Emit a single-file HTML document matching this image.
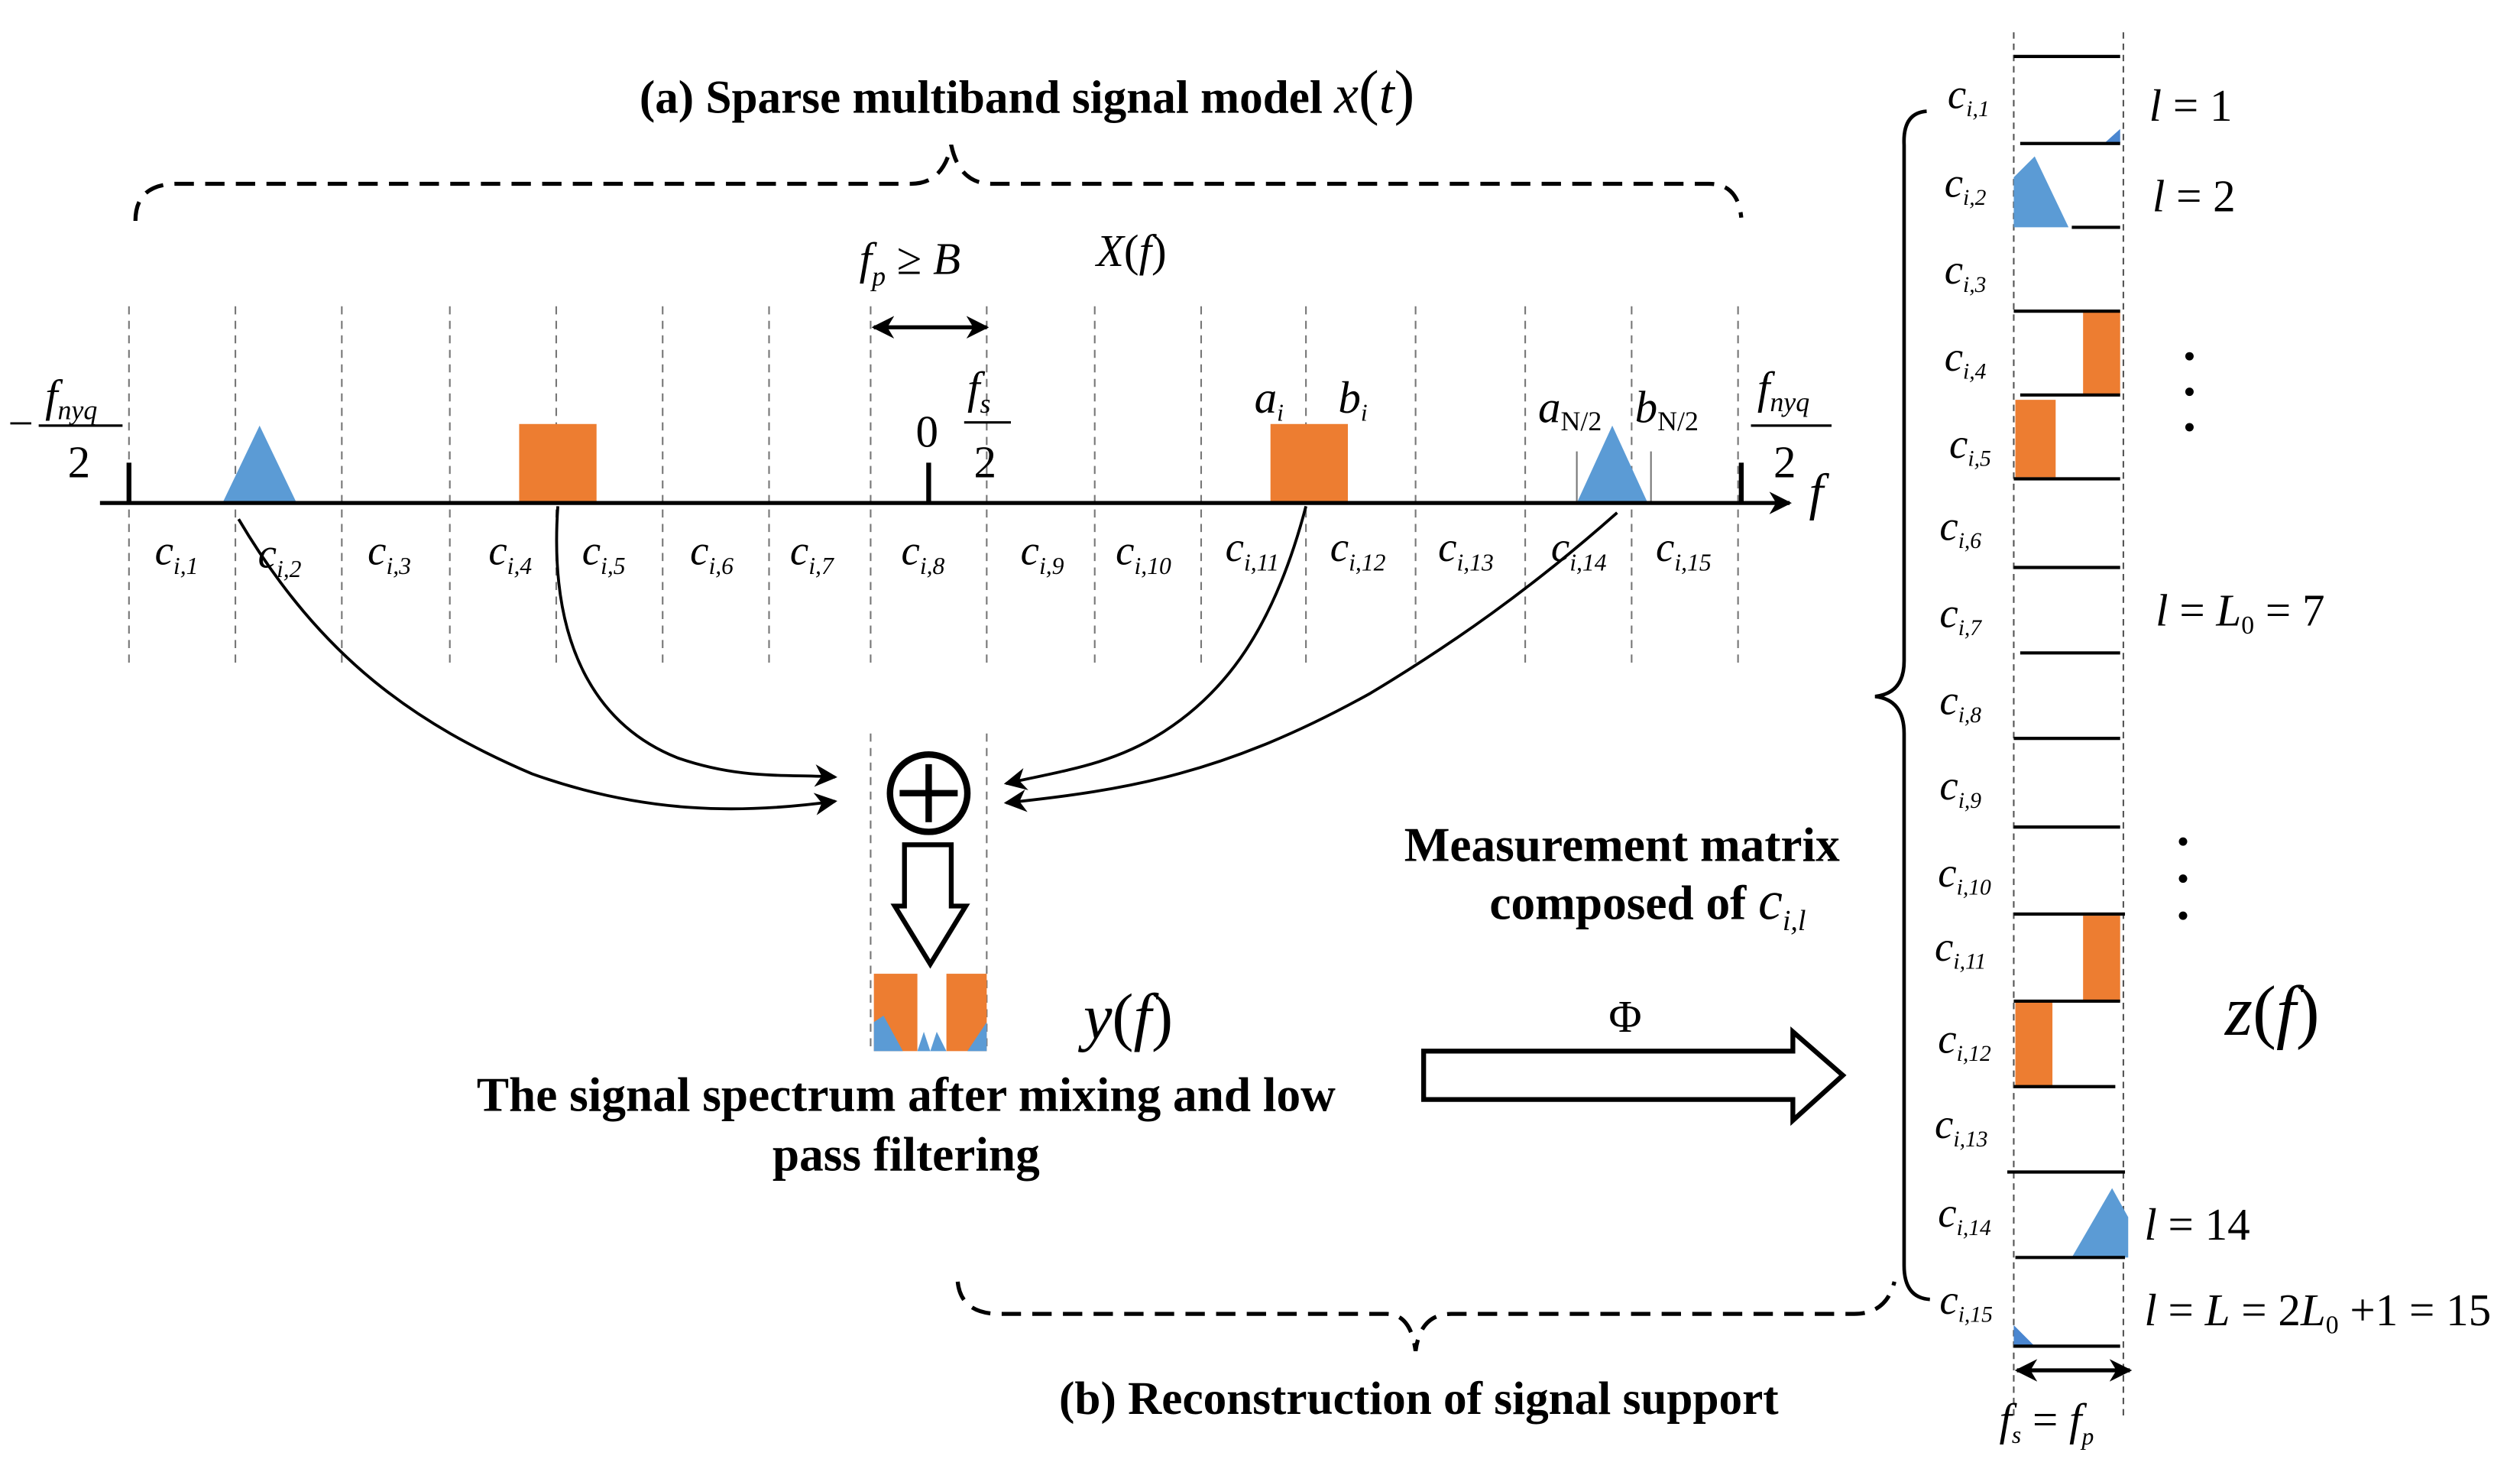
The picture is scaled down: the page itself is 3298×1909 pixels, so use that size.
<!DOCTYPE html>
<html><head><meta charset="utf-8"><style>
html,body{margin:0;padding:0;background:#fff;}
svg{display:block;}
text{font-family:"Liberation Serif",serif;}
.it{font-style:italic;}
.b{font-weight:bold;}
</style></head><body>
<svg width="3298" height="1909" viewBox="0 0 1563 905" preserveAspectRatio="none" xmlns="http://www.w3.org/2000/svg">
<defs>
<marker id="ah" viewBox="0 0 10 10" refX="9" refY="5" markerWidth="9" markerHeight="9" orient="auto-start-reverse" markerUnits="userSpaceOnUse"><path d="M0,0 L10,5 L0,10 L3,5 z" fill="#000"/></marker>
<marker id="ah2" viewBox="0 0 10 10" refX="9" refY="5" markerWidth="14" markerHeight="14" orient="auto-start-reverse" markerUnits="userSpaceOnUse"><path d="M0,0 L10,5 L0,10 L3,5 z" fill="#000"/></marker>
</defs>

<text x="637" y="70" font-size="29" class="b" text-anchor="middle">(a) Sparse multiband signal model <tspan class="it" font-weight="normal" font-size="34">x</tspan><tspan font-weight="normal" font-size="38">(</tspan><tspan class="it" font-weight="normal" font-size="34">t</tspan><tspan font-weight="normal" font-size="38">)</tspan></text>

<path d="M84,137 Q84,114 110,114 L565,114 Q585,114 590,90 Q595,114 615,114 L1060,114 Q1078,114 1080,135" fill="none" stroke="#000" stroke-width="2.5" stroke-dasharray="12,7"/>

<g stroke="#777" stroke-width="1" stroke-dasharray="5,4">
<line x1="80" y1="190" x2="80" y2="412"/><line x1="146" y1="190" x2="146" y2="412"/>
<line x1="212" y1="190" x2="212" y2="412"/><line x1="279" y1="190" x2="279" y2="412"/>
<line x1="345" y1="190" x2="345" y2="412"/><line x1="411" y1="190" x2="411" y2="412"/>
<line x1="477" y1="190" x2="477" y2="412"/><line x1="540" y1="190" x2="540" y2="412"/>
<line x1="612" y1="190" x2="612" y2="412"/><line x1="679" y1="190" x2="679" y2="412"/>
<line x1="745" y1="190" x2="745" y2="412"/><line x1="810" y1="190" x2="810" y2="412"/>
<line x1="878" y1="190" x2="878" y2="412"/><line x1="946" y1="190" x2="946" y2="412"/>
<line x1="1012" y1="190" x2="1012" y2="412"/><line x1="1078" y1="190" x2="1078" y2="412"/>
<line x1="540" y1="455" x2="540" y2="650"/><line x1="612" y1="455" x2="612" y2="650"/>
</g>
<line x1="978" y1="280" x2="978" y2="312" stroke="#777" stroke-width="1"/>
<line x1="1024" y1="280" x2="1024" y2="312" stroke="#777" stroke-width="1"/>

<polygon points="138,312 161,264 184,312" fill="#5b9bd5"/>
<rect x="322" y="263" width="48" height="49" fill="#ed7d31"/>
<rect x="788" y="263" width="48" height="49" fill="#ed7d31"/>
<polygon points="978,312 1000,264 1022,312" fill="#5b9bd5"/>

<line x1="62" y1="312" x2="1110" y2="312" stroke="#000" stroke-width="2.5" marker-end="url(#ah2)"/>
<g stroke="#000" stroke-width="3"><line x1="80" y1="287" x2="80" y2="312"/><line x1="576" y1="287" x2="576" y2="312"/><line x1="1080" y1="287" x2="1080" y2="312"/></g>

<g font-size="28">
<text x="5" y="272">−</text><text x="28" y="255" class="it">f<tspan font-size="17" dy="5">nyq</tspan></text>
<line x1="24" y1="264" x2="76" y2="264" stroke="#000" stroke-width="1.5"/><text x="42" y="296">2</text>
<text x="568" y="277">0</text>
<text x="600" y="250" class="it">f<tspan font-size="17" dy="6">s</tspan></text>
<line x1="598" y1="262" x2="627" y2="262" stroke="#000" stroke-width="1.5"/><text x="604" y="296">2</text>
<text x="778" y="256" class="it">a<tspan font-size="15" dy="5">i</tspan></text>
<text x="830" y="256" class="it">b<tspan font-size="15" dy="5">i</tspan></text>
<text x="954" y="262" class="it">a<tspan font-size="17" dy="5" font-style="normal">N/2</tspan></text>
<text x="1014" y="262" class="it">b<tspan font-size="17" dy="5" font-style="normal">N/2</tspan></text>
<text x="1090" y="250" class="it">f<tspan font-size="17" dy="5">nyq</tspan></text>
<line x1="1086" y1="264" x2="1136" y2="264" stroke="#000" stroke-width="1.5"/><text x="1100" y="296">2</text>
<text x="1122" y="316" class="it" font-size="32">f</text>
<text x="533" y="170" class="it">f<tspan font-size="17" dy="7">p</tspan><tspan dy="-7" font-style="normal"> ≥ </tspan>B</text>
<text x="680" y="165" class="it">X<tspan font-style="normal">(</tspan>f<tspan font-style="normal">)</tspan></text>
</g>
<line x1="542" y1="203" x2="612" y2="203" stroke="#000" stroke-width="2.5" marker-start="url(#ah2)" marker-end="url(#ah2)"/>

<g font-size="26" class="it">
<text x="96" y="350">c<tspan font-size="15" dy="6">i,1</tspan></text>
<text x="160" y="352">c<tspan font-size="15" dy="6">i,2</tspan></text>
<text x="228" y="350">c<tspan font-size="15" dy="6">i,3</tspan></text>
<text x="303" y="350">c<tspan font-size="15" dy="6">i,4</tspan></text>
<text x="361" y="350">c<tspan font-size="15" dy="6">i,5</tspan></text>
<text x="428" y="350">c<tspan font-size="15" dy="6">i,6</tspan></text>
<text x="490" y="350">c<tspan font-size="15" dy="6">i,7</tspan></text>
<text x="559" y="350">c<tspan font-size="15" dy="6">i,8</tspan></text>
<text x="633" y="350">c<tspan font-size="15" dy="6">i,9</tspan></text>
<text x="692" y="350">c<tspan font-size="15" dy="6">i,10</tspan></text>
<text x="760" y="348">c<tspan font-size="15" dy="6">i,11</tspan></text>
<text x="825" y="348">c<tspan font-size="15" dy="6">i,12</tspan></text>
<text x="892" y="348">c<tspan font-size="15" dy="6">i,13</tspan></text>
<text x="962" y="348">c<tspan font-size="15" dy="6">i,14</tspan></text>
<text x="1027" y="348">c<tspan font-size="15" dy="6">i,15</tspan></text>
</g>

<g fill="none" stroke="#000" stroke-width="1.8">
<path d="M148,322 C200,410 260,450 330,480 C400,505 460,505 518,497" marker-end="url(#ah2)"/>
<path d="M346,314 C340,400 370,450 420,470 C460,484 490,480 518,482" marker-end="url(#ah2)"/>
<path d="M810,314 C790,390 760,430 720,455 C690,474 660,478 624,486" marker-end="url(#ah2)"/>
<path d="M1003,318 C950,365 900,400 850,430 C760,480 700,490 624,498" marker-end="url(#ah2)"/>
</g>

<circle cx="576" cy="492" r="24" fill="#fff" stroke="#000" stroke-width="4"/>
<line x1="576" y1="474" x2="576" y2="510" stroke="#000" stroke-width="4"/>
<line x1="558" y1="492" x2="594" y2="492" stroke="#000" stroke-width="4"/>
<polygon points="561,524 590,524 590,562 599,562 577,598 555,562 561,562" fill="#fff" stroke="#000" stroke-width="3"/>

<rect x="542" y="604" width="27" height="48" fill="#ed7d31"/>
<rect x="587" y="604" width="25" height="48" fill="#ed7d31"/>
<polygon points="542,634 548,630 560,652 542,652" fill="#5b9bd5"/>
<polygon points="569,652 573,640 577,652" fill="#5b9bd5"/>
<polygon points="577,652 581,640 587,652" fill="#5b9bd5"/>
<polygon points="600,652 612,634 612,652" fill="#5b9bd5"/>
<text x="672" y="644" font-size="40" class="it">y<tspan font-style="normal">(</tspan>f<tspan font-style="normal">)</tspan></text>

<g font-size="30" class="b" text-anchor="middle">
<text x="562" y="689">The signal spectrum after mixing and low</text>
<text x="562" y="726">pass filtering</text>
<text x="1006" y="534">Measurement matrix</text>
<text x="1022" y="570">composed of <tspan class="it" font-weight="normal" font-size="34">c</tspan><tspan class="it" font-weight="normal" font-size="18" dy="7">i,l</tspan></text>
</g>
<text x="1008" y="640" font-size="28" text-anchor="middle">Φ</text>
<polygon points="883,652 1112,652 1112,640 1143,667 1112,695 1112,682 883,682" fill="#fff" stroke="#000" stroke-width="3"/>

<path d="M594,795 Q596,815 620,815 L860,815 Q875,815 878,838 Q881,815 900,815 L1150,815 Q1170,815 1175,795" fill="none" stroke="#000" stroke-width="2.5" stroke-dasharray="12,7"/>
<text x="880" y="877" font-size="29" class="b" text-anchor="middle">(b) Reconstruction of signal support</text>

<path d="M1195,69 Q1180,70 1181,90 L1181,410 Q1181,430 1163,432 Q1181,434 1181,455 L1181,785 Q1181,805 1197,806" fill="none" stroke="#000" stroke-width="2.2"/>

<g stroke="#555" stroke-width="1" stroke-dasharray="4,3">
<line x1="1249" y1="20" x2="1249" y2="880"/><line x1="1317" y1="20" x2="1317" y2="880"/>
</g>
<polygon points="1305,89 1315,80 1315,89" fill="#4a86d0"/>
<polygon points="1249,141 1249,110 1262,97 1283,141" fill="#5b9bd5"/>
<rect x="1292" y="193" width="23" height="52" fill="#ed7d31"/>
<rect x="1250" y="248" width="25" height="48" fill="#ed7d31"/>
<rect x="1292" y="568" width="23" height="53" fill="#ed7d31"/>
<rect x="1250" y="621" width="23" height="53" fill="#ed7d31"/>
<polygon points="1285,780 1310,737 1320,755 1320,780" fill="#5b9bd5"/>
<polygon points="1249,822 1262,835 1249,835" fill="#4a86d0"/>

<g stroke="#000" stroke-width="2">
<line x1="1249" y1="35" x2="1315" y2="35"/>
<line x1="1253" y1="89" x2="1315" y2="89"/>
<line x1="1285" y1="141" x2="1315" y2="141"/>
<line x1="1249" y1="193" x2="1315" y2="193"/>
<line x1="1253" y1="245" x2="1315" y2="245"/>
<line x1="1249" y1="297" x2="1315" y2="297"/>
<line x1="1249" y1="352" x2="1315" y2="352"/>
<line x1="1253" y1="405" x2="1315" y2="405"/>
<line x1="1249" y1="458" x2="1315" y2="458"/>
<line x1="1249" y1="513" x2="1315" y2="513"/>
<line x1="1249" y1="567" x2="1318" y2="567"/>
<line x1="1249" y1="621" x2="1315" y2="621"/>
<line x1="1249" y1="674" x2="1312" y2="674"/>
<line x1="1245" y1="727" x2="1318" y2="727"/>
<line x1="1250" y1="780" x2="1318" y2="780"/>
<line x1="1249" y1="835" x2="1315" y2="835"/>
</g>

<g font-size="26" class="it">
<text x="1208" y="67">c<tspan font-size="14" dy="5">i,1</tspan></text>
<text x="1206" y="122">c<tspan font-size="14" dy="5">i,2</tspan></text>
<text x="1206" y="176">c<tspan font-size="14" dy="5">i,3</tspan></text>
<text x="1206" y="230">c<tspan font-size="14" dy="5">i,4</tspan></text>
<text x="1209" y="284">c<tspan font-size="14" dy="5">i,5</tspan></text>
<text x="1203" y="335">c<tspan font-size="14" dy="5">i,6</tspan></text>
<text x="1203" y="389">c<tspan font-size="14" dy="5">i,7</tspan></text>
<text x="1203" y="443">c<tspan font-size="14" dy="5">i,8</tspan></text>
<text x="1203" y="496">c<tspan font-size="14" dy="5">i,9</tspan></text>
<text x="1202" y="550">c<tspan font-size="14" dy="5">i,10</tspan></text>
<text x="1200" y="596">c<tspan font-size="14" dy="5">i,11</tspan></text>
<text x="1202" y="653">c<tspan font-size="14" dy="5">i,12</tspan></text>
<text x="1200" y="706">c<tspan font-size="14" dy="5">i,13</tspan></text>
<text x="1202" y="761">c<tspan font-size="14" dy="5">i,14</tspan></text>
<text x="1203" y="815">c<tspan font-size="14" dy="5">i,15</tspan></text>
</g>

<g font-size="28">
<text x="1333" y="75"><tspan class="it">l</tspan> = 1</text>
<text x="1335" y="131"><tspan class="it">l</tspan> = 2</text>
<text x="1337" y="388"><tspan class="it">l</tspan> = <tspan class="it">L</tspan><tspan font-size="16" dy="5">0</tspan><tspan dy="-5"> = 7</tspan></text>
<text x="1330" y="769"><tspan class="it">l</tspan> = 14</text>
<text x="1330" y="822"><tspan class="it">l</tspan> = <tspan class="it">L</tspan> = 2<tspan class="it">L</tspan><tspan font-size="16" dy="5">0</tspan><tspan dy="-5"> +1 = 15</tspan></text>
<text x="1380" y="642" font-size="44" class="it">z<tspan font-style="normal">(</tspan>f<tspan font-style="normal">)</tspan></text>
<text x="1240" y="890" class="it">f<tspan font-size="15" dy="5">s</tspan><tspan dy="-5" font-style="normal"> = </tspan>f<tspan font-size="15" dy="6">p</tspan></text>
</g>
<g fill="#000">
<circle cx="1358" cy="221" r="2.6"/><circle cx="1358" cy="243" r="2.6"/><circle cx="1358" cy="265" r="2.6"/>
<circle cx="1354" cy="522" r="2.6"/><circle cx="1354" cy="545" r="2.6"/><circle cx="1354" cy="568" r="2.6"/>
</g>
<line x1="1251" y1="850" x2="1321" y2="850" stroke="#000" stroke-width="2.5" marker-start="url(#ah2)" marker-end="url(#ah2)"/>
</svg>
</body></html>
